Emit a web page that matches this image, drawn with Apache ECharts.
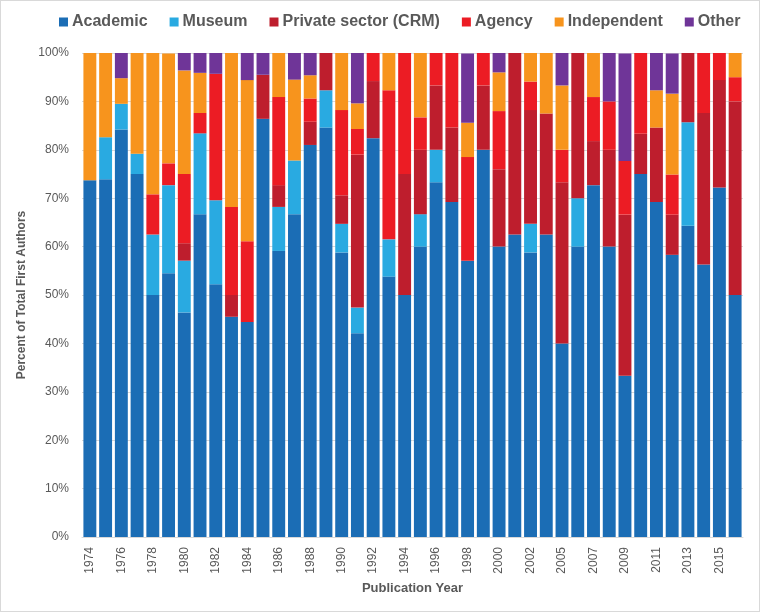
<!DOCTYPE html>
<html>
<head>
<meta charset="utf-8">
<script src="https://cdn.jsdelivr.net/npm/echarts@6/dist/echarts.min.js"></script>
<style>
  html, body { margin: 0; padding: 0; background: #ffffff; }
  #chart { width: 760px; height: 612px; box-sizing: border-box; border: 1px solid #d9d9d9; }
</style>
</head>
<body>
<div id="chart"></div>
<script>
const years = ['1974','1975','1976','1977','1978','1979','1980','1981','1982','1983','1984','1985','1986','1987','1988','1989','1990','1991','1992','1993','1994','1995','1996','1997','1998','1999','2000','2001','2002','2004','2005','2006','2007','2008','2009','2010','2011','2012','2013','2014','2015','2016'];

const academic    = [73.7,73.9,84.2,75.0,50.0,54.5,46.4,66.7,52.2,45.5,44.4,86.4,59.1,66.7,81.0,84.6,58.8,42.1,82.4,53.8,50.0,60.0,73.3,69.2,57.1,80.0,60.0,62.5,58.8,62.5,40.0,60.0,72.7,60.0,33.3,75.0,69.2,58.3,64.3,56.3,72.2,50.0];
const museum      = [0,8.7,5.3,4.2,12.5,18.2,10.7,16.7,17.4,0,0,0,9.1,11.1,0,7.7,5.9,5.3,0,7.7,0,6.7,6.7,0,0,0,0,0,5.9,0,0,10.0,0,0,0,0,0,0,21.4,0,0,0];
const privateCRM  = [0,0,0,0,0,0,3.6,0,0,4.5,0,9.1,4.5,0,4.8,7.7,5.9,31.6,11.8,0,25.0,13.3,13.3,15.4,0,13.3,16.0,37.5,23.5,25.0,33.3,30.0,9.1,20.0,33.3,8.3,15.4,8.3,14.3,31.3,22.2,40.0];
const agency      = [0,0,0,0,8.3,4.5,14.3,4.2,26.1,18.2,16.7,0,18.2,0,4.8,0,17.6,5.3,5.9,30.8,25.0,6.7,6.7,15.4,21.4,6.7,12.0,0,5.9,0,6.7,0,9.1,10.0,11.1,16.7,0,8.3,0,12.5,5.6,5.0];
const independent = [26.3,17.4,5.3,20.8,29.2,22.7,21.4,8.3,0,31.8,33.3,0,9.1,16.7,4.8,0,11.8,5.3,0,7.7,0,13.3,0,0,7.1,0,8.0,0,5.9,12.5,13.3,0,9.1,0,0,0,7.7,16.7,0,0,0,5.0];
const other       = [0,0,5.3,0,0,0,3.6,4.2,4.3,0,5.6,4.5,0,5.6,4.8,0,0,10.5,0,0,0,0,0,0,14.3,0,4.0,0,0,0,6.7,0,0,10.0,22.2,0,7.7,8.3,0,0,0,0];

const seriesNames = ['Academic','Museum','Private sector (CRM)','Agency','Independent','Other'];
const seriesData = [academic, museum, privateCRM, agency, independent, other];
const colors = ['#1b6db5','#29aae1','#be1e2d','#ec1c24','#f7941d','#6f3598'];

const chart = echarts.init(document.getElementById('chart'), null, { renderer: 'canvas' });
const textColor = '#595959';
const font = 'Liberation Sans, Arial, sans-serif';

chart.setOption({
  animation: false,
  backgroundColor: '#ffffff',
  color: colors,
  textStyle: { fontFamily: font },
  legend: {
    left: 53,
    top: 8,
    itemWidth: 9,
    itemHeight: 9,
    itemGap: 22,
    icon: 'rect',
    textStyle: { fontSize: 16, fontWeight: 'bold', color: textColor, fontFamily: font, padding: [0, 0, 0, -1] },
    data: seriesNames
  },
  grid: { left: 81, right: 16, top: 52, bottom: 74, containLabel: false },
  xAxis: {
    type: 'category',
    data: years,
    name: 'Publication Year',
    nameLocation: 'middle',
    nameGap: 44,
    nameTextStyle: { fontSize: 13, fontWeight: 'bold', color: textColor, fontFamily: font },
    axisLine: { lineStyle: { color: '#d9d9d9' } },
    axisTick: { show: false },
    axisLabel: { rotate: 90, interval: 1, fontSize: 12, color: textColor, margin: 10, fontFamily: font }
  },
  yAxis: {
    type: 'value',
    min: 0,
    max: 100,
    interval: 10,
    name: 'Percent of Total First Authors',
    nameLocation: 'middle',
    nameGap: 51,
    nameTextStyle: { fontSize: 12, fontWeight: 'bold', color: textColor, fontFamily: font },
    axisLine: { show: false },
    axisTick: { show: false },
    axisLabel: { formatter: '{value}%', fontSize: 12, color: textColor, margin: 13, fontFamily: font },
    splitLine: { lineStyle: { color: '#d9d9d9' } }
  },
  series: seriesNames.map((name, i) => ({
    name: name,
    type: 'bar',
    stack: 'total',
    barCategoryGap: '18%',
    data: seriesData[i],
    itemStyle: { color: colors[i] }
  }))
});
</script>
</body>
</html>
